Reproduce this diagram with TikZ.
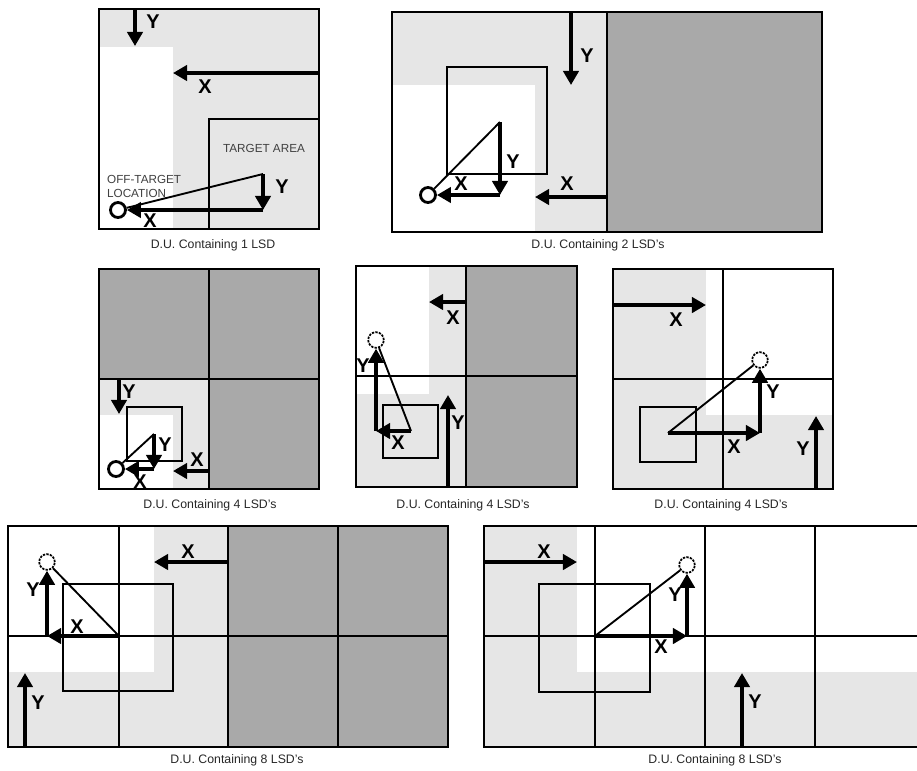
\documentclass[tikz,border=0pt]{standalone}
\usepackage{fontspec}
\setmainfont{Liberation Sans}
\usetikzlibrary{arrows.meta}
\definecolor{lsdlite}{HTML}{E6E6E6}
\definecolor{lsddark}{HTML}{A9A9A9}

\begin{document}
\begin{tikzpicture}[x=0.03cm, y=-0.03cm,
    lite/.style={fill=lsdlite},
    dark/.style={fill=lsddark},
    du/.style={draw=black, line width=2pt},
    arr/.style={line width=3pt, -{Triangle[length=12pt,width=13pt]}},
    hyp/.style={line width=1.6pt},
    spot/.style={circle, draw, line width=2.4pt, minimum size=0.45cm, inner sep=0pt},
    spotd/.style={circle, draw, dash pattern=on 2pt off 1pt, line width=1.5pt, minimum size=0.47cm, inner sep=0pt},
    lbl/.style={font=\fontsize{17}{17}\selectfont\bfseries, inner sep=0pt},
    caption/.style={font=\fontsize{10.5}{12}\selectfont, text=black!85},
    note/.style={font=\fontsize{10}{12}\selectfont, text=black!75, align=left}]
    \useasboundingbox (0,0) rectangle (917,770);
    \clip (0,0) rectangle (917,770);

    % D.U. CON 1 LSD
    \fill[lite] (99,9) rectangle (319,229);
    \fill[white] (99,47) rectangle (173,229);
    \draw[du] (209,119) rectangle (319,229);
    \draw[du] (99,9) rectangle (319,229);
    \node[note] (ta1) at (264,148) {TARGET AREA};
    \node[note, anchor=west] (off1) at (103,186) {OFF-TARGET\\LOCATION};
    \node[spot] (o1) at (118,210) {};
    \coordinate (y1a) at (135,9);
    \coordinate (y1b) at (135,46);
    \coordinate (x1a) at (319,73);
    \coordinate (x1b) at (173,73);
    \coordinate (t1) at (263,174);
    \coordinate (c1) at (263,210);
    \draw[arr] (y1a) -- (y1b);
    \draw[arr] (x1a) -- (x1b);
    \draw[hyp] (t1) -- (o1);
    \draw[arr] (t1) -- (c1);
    \draw[arr] (c1) -- (o1);
    \node[lbl] (ly1) at (153,22) {Y};
    \node[lbl] (lx1) at (205,87) {X};
    \node[lbl] (ly1b) at (282,187) {Y};
    \node[lbl] (lx1b) at (150,221) {X};
    \node[caption] (cap1) at (213,245) {D.U. Containing 1 LSD};

    % D.U. CON 2 LSD
    \fill[lite] (392,12) rectangle (607,232);
    \fill[white] (392,85) rectangle (535,232);
    \fill[dark] (607,12) rectangle (822,232);
    \draw[du] (607,12) -- (607,232);
    \draw[du] (392,12) rectangle (822,232);
    \draw[du] (447,67) rectangle (547,174);
    \node[spot] (o2) at (428,195) {};
    \coordinate (y2a) at (571,12);
    \coordinate (y2b) at (571,85);
    \coordinate (x2a) at (607,197);
    \coordinate (x2b) at (535,197);
    \coordinate (t2) at (500,122);
    \coordinate (c2) at (500,195);
    \draw[arr] (y2a) -- (y2b);
    \draw[arr] (x2a) -- (x2b);
    \draw[hyp] (t2) -- (o2);
    \draw[arr] (t2) -- (c2);
    \draw[arr] (c2) -- (o2);
    \node[lbl] (ly2) at (587,56) {Y};
    \node[lbl] (lx2) at (567,184) {X};
    \node[lbl] (ly2b) at (513,162) {Y};
    \node[lbl] (lx2b) at (461,184) {X};
    \node[caption] (cap2) at (598,245) {D.U. Containing 2 LSD's};

    % D.U. CON 4 LSD (a)
    \fill[dark] (99,269) rectangle (319,489);
    \fill[lite] (99,379) rectangle (209,489);
    \fill[white] (99,415) rectangle (173,489);
    \draw[du] (209,269) -- (209,489);
    \draw[du] (99,379) -- (319,379);
    \draw[du] (99,269) rectangle (319,489);
    \draw[du] (127,407) rectangle (182,461);
    \node[spot] (o3) at (116,469) {};
    \coordinate (y3a) at (119,379);
    \coordinate (y3b) at (119,414);
    \coordinate (x3a) at (209,471);
    \coordinate (x3b) at (173,471);
    \coordinate (t3) at (154,434);
    \coordinate (c3) at (154,469);
    \draw[arr] (y3a) -- (y3b);
    \draw[arr] (x3a) -- (x3b);
    \draw[hyp] (t3) -- (o3);
    \draw[arr] (t3) -- (c3);
    \draw[arr] (c3) -- (o3);
    \node[lbl] (ly3) at (129,392) {Y};
    \node[lbl] (lx3) at (197,460) {X};
    \node[lbl] (ly3b) at (165,445) {Y};
    \node[lbl] (lx3b) at (140,482) {X};
    \node[caption] (cap3) at (210,505) {D.U. Containing 4 LSD's};

    % D.U. CON 4 LSD (b)
    \fill[lite] (356,266) rectangle (466,487);
    \fill[white] (356,266) rectangle (429,394);
    \fill[dark] (466,266) rectangle (577,487);
    \draw[du] (466,266) -- (466,487);
    \draw[du] (356,376) -- (577,376);
    \draw[du] (356,266) rectangle (577,487);
    \draw[du] (383,405) rectangle (438,458);
    \node[spotd] (o4) at (376,340) {};
    \coordinate (x4a) at (466,302);
    \coordinate (x4b) at (429,302);
    \coordinate (y4a) at (448,487);
    \coordinate (y4b) at (448,395);
    \coordinate (t4) at (411,431);
    \coordinate (c4) at (376,431);
    \draw[arr] (x4a) -- (x4b);
    \draw[arr] (y4a) -- (y4b);
    \draw[hyp] (t4) -- (o4);
    \draw[arr] (t4) -- (c4);
    \draw[arr] (c4) -- (o4);
    \node[lbl] (lx4) at (453,318) {X};
    \node[lbl] (ly4) at (458,423) {Y};
    \node[lbl] (ly4b) at (363,366) {Y};
    \node[lbl] (lx4b) at (398,443) {X};
    \node[caption] (cap4) at (463,505) {D.U. Containing 4 LSD's};

    % D.U. CON 4 LSD (c)
    \fill[lite] (613,269) rectangle (833,489);
    \fill[white] (706,269) rectangle (833,415);
    \draw[du] (723,269) -- (723,489);
    \draw[du] (613,379) -- (833,379);
    \draw[du] (613,269) rectangle (833,489);
    \draw[du] (640,407) rectangle (696,462);
    \node[spotd] (o5) at (760,360) {};
    \coordinate (x5a) at (613,305);
    \coordinate (x5b) at (706,305);
    \coordinate (y5a) at (816,489);
    \coordinate (y5b) at (816,416);
    \coordinate (t5) at (668,433);
    \coordinate (c5) at (760,433);
    \draw[arr] (x5a) -- (x5b);
    \draw[arr] (y5a) -- (y5b);
    \draw[hyp] (t5) -- (o5);
    \draw[arr] (t5) -- (c5);
    \draw[arr] (c5) -- (o5);
    \node[lbl] (lx5) at (676,320) {X};
    \node[lbl] (ly5) at (803,449) {Y};
    \node[lbl] (ly5b) at (773,392) {Y};
    \node[lbl] (lx5b) at (734,447) {X};
    \node[caption] (cap5) at (721,505) {D.U. Containing 4 LSD's};

    % D.U. CON 8 LSD (a)
    \fill[lite] (8,526) rectangle (228,747);
    \fill[white] (8,526) rectangle (154,672);
    \fill[dark] (228,526) rectangle (448,747);
    \draw[du] (119,526) -- (119,747);
    \draw[du] (228,526) -- (228,747);
    \draw[du] (338,526) -- (338,747);
    \draw[du] (8,636) -- (448,636);
    \draw[du] (8,526) rectangle (448,747);
    \draw[du] (63,584) rectangle (173,691);
    \node[spotd] (o6) at (47,562) {};
    \coordinate (x6a) at (228,562);
    \coordinate (x6b) at (154,562);
    \coordinate (y6a) at (25,747);
    \coordinate (y6b) at (25,673);
    \coordinate (t6) at (119,636);
    \coordinate (c6) at (47,636);
    \draw[arr] (x6a) -- (x6b);
    \draw[arr] (y6a) -- (y6b);
    \draw[hyp] (t6) -- (o6);
    \draw[arr] (t6) -- (c6);
    \draw[arr] (c6) -- (o6);
    \node[lbl] (lx6) at (188,552) {X};
    \node[lbl] (ly6) at (38,703) {Y};
    \node[lbl] (ly6b) at (33,590) {Y};
    \node[lbl] (lx6b) at (77,627) {X};
    \node[caption] (cap6) at (237,760) {D.U. Containing 8 LSD's};

    % D.U. CON 8 LSD (b)
    \fill[lite] (484,526) rectangle (925,747);
    \fill[white] (577,526) rectangle (925,672);
    \draw[du] (595,526) -- (595,747);
    \draw[du] (705,526) -- (705,747);
    \draw[du] (815,526) -- (815,747);
    \draw[du] (484,636) -- (925,636);
    \draw[du] (484,526) rectangle (925,747);
    \draw[du] (539,584) rectangle (650,692);
    \node[spotd] (o7) at (687,565) {};
    \coordinate (x7a) at (484,562);
    \coordinate (x7b) at (577,562);
    \coordinate (y7a) at (742,747);
    \coordinate (y7b) at (742,673);
    \coordinate (t7) at (595,636);
    \coordinate (c7) at (687,636);
    \draw[arr] (x7a) -- (x7b);
    \draw[arr] (y7a) -- (y7b);
    \draw[hyp] (t7) -- (o7);
    \draw[arr] (t7) -- (c7);
    \draw[arr] (c7) -- (o7);
    \node[lbl] (lx7) at (544,552) {X};
    \node[lbl] (ly7) at (755,702) {Y};
    \node[lbl] (ly7b) at (675,595) {Y};
    \node[lbl] (lx7b) at (661,647) {X};
    \node[caption] (cap7) at (715,760) {D.U. Containing 8 LSD's};
\end{tikzpicture}
\end{document}
